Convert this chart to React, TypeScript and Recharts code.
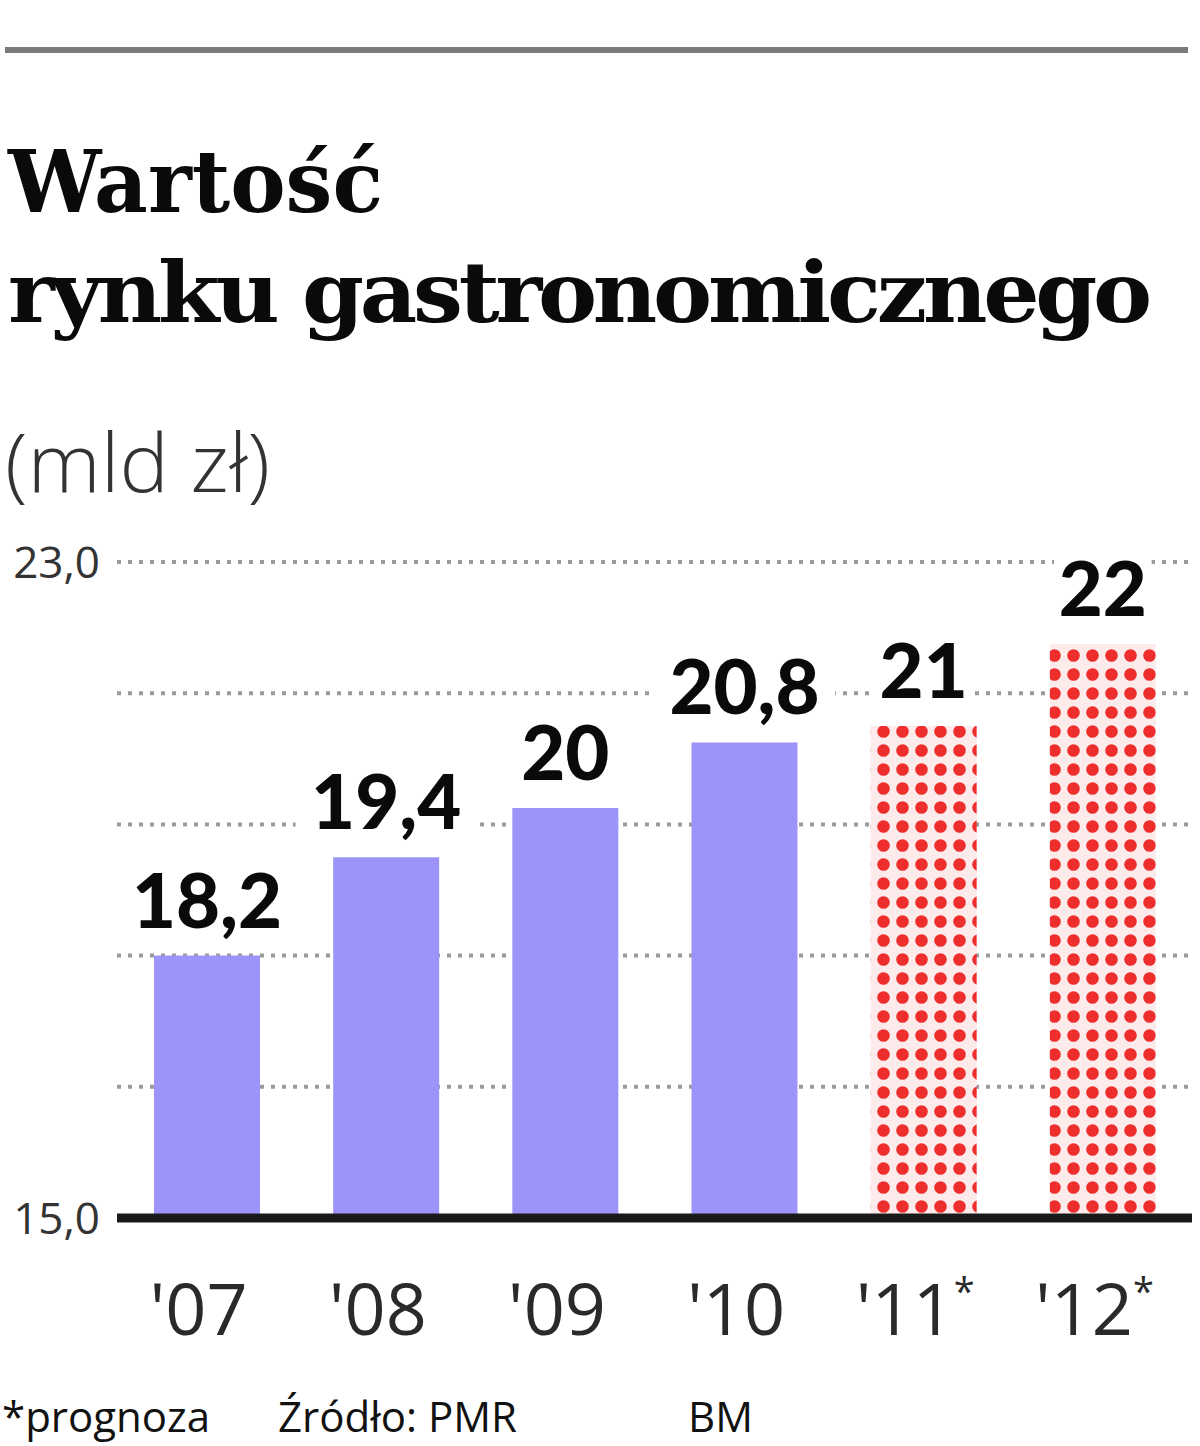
import React from "react";
import { BarChart, Bar, XAxis, YAxis, CartesianGrid, Cell, LabelList } from "recharts";

const categories = ["'07", "'08", "'09", "'10", "'11", "'12"];
const values = [18.2, 19.4, 20, 20.8, 21, 22];
const isForecast = [false, false, false, false, true, true];
const valueLabels = ["18,2", "19,4", "20", "20,8", "21", "22"];
const yTicks = [15, 16.6, 18.2, 19.8, 21.4, 23];
const yTickLabels: Record<string, string> = { "15": "15,0", "23": "23,0" };

const data = categories.map((c, i) => ({
  cat: c,
  value: values[i],
  forecast: isForecast[i],
  label: valueLabels[i],
}));

const W = 1200;
const H = 1446;
const BLUE = "#9c94f8";

const XTick = (props: any) => {
  const { x, y, payload } = props;
  const txt: string = payload.value;
  const star = txt.endsWith("*");
  const base = star ? txt.slice(0, -1) : txt;
  return (
    <text
      x={x - 8}
      y={y + 117}
      textAnchor="middle"
      fontFamily="'Open Sans', 'Noto Sans', sans-serif"
      fontWeight={400}
      fontSize={72}
      fill="#2a2a2a"
    >
      {base}
      {star ? (
        <tspan dy={-30} fontSize={38}>
          *
        </tspan>
      ) : null}
    </text>
  );
};

const ValueLabel = (props: any) => {
  const { x, y, width, index } = props;
  const txt = valueLabels[index];
  const cx = x + width / 2;
  const baseline = y - 28;
  const fs = 76;
  const w = txt.length * fs * 0.55 + 14;
  return (
    <g>
      <rect x={cx - w / 2} y={baseline - fs * 0.78} width={w} height={fs * 0.78 + 14} fill="#ffffff" />
      <text
        x={cx}
        y={baseline}
        textAnchor="middle"
        fontFamily="Lato, 'Noto Sans', sans-serif"
        fontWeight={900}
        fontSize={fs}
        fill="#0a0a0a"
      >
        {txt}
      </text>
    </g>
  );
};

export default function App() {
  const catLabels = categories.map((c, i) => (isForecast[i] ? c + "*" : c));
  const chartData = data.map((d, i) => ({ ...d, catLabel: catLabels[i] }));
  return (
    <div
      style={{
        position: "absolute",
        left: 0,
        top: 0,
        width: W,
        height: H,
        overflow: "hidden",
        background: "#ffffff",
      }}
    >
      <svg width={0} height={0} style={{ position: "absolute" }}>
        <defs>
          <pattern id="dots" patternUnits="userSpaceOnUse" width={19} height={19}>
            <rect x={0} y={0} width={19} height={19} fill="#fdeaea" />
            <circle cx={9.5} cy={9.5} r={6.3} fill="#ee2d2d" />
          </pattern>
        </defs>
      </svg>
      <div style={{ position: "absolute", left: 0, top: 0 }}>
        <BarChart
          width={W}
          height={H}
          data={chartData}
          margin={{ top: 562, right: 8, left: 0, bottom: 108 }}
        >
          <CartesianGrid
            horizontal={true}
            vertical={false}
            stroke="#9a9a9a"
            strokeWidth={4}
            strokeDasharray="4 7"
          />
          <XAxis
            dataKey="catLabel"
            height={120}
            axisLine={{ stroke: "#1a1a1a", strokeWidth: 9 }}
            tickLine={false}
            tickSize={0}
            tickMargin={0}
            interval={0}
            tick={<XTick />}
          />
          <YAxis
            width={117}
            domain={[15, 23]}
            ticks={yTicks}
            allowDataOverflow={true}
            axisLine={false}
            tickLine={false}
            tickSize={0}
            tickMargin={17}
            tickFormatter={(v: number) => yTickLabels[String(v)] ?? ""}
            tick={{
              fontFamily: "'Open Sans', 'Noto Sans', sans-serif",
              fontWeight: 400,
              fontSize: 44,
              fill: "#333333",
            }}
          />
          <Bar dataKey="value" barSize={106} isAnimationActive={false}>
            {chartData.map((d, i) => (
              <Cell key={i} fill={d.forecast ? "url(#dots)" : BLUE} />
            ))}
            <LabelList dataKey="value" content={<ValueLabel />} />
          </Bar>
        </BarChart>
      </div>
      <svg
        width={W}
        height={H}
        style={{ position: "absolute", left: 0, top: 0, pointerEvents: "none" }}
      >
        <rect x={5} y={47} width={1183} height={6} fill="#7a7a7a" />
        <text
          x={8}
          y={212}
          fontFamily="'DejaVu Serif', serif"
          fontWeight={700}
          fontSize={86}
          fill="#0a0a0a"
          textLength={375}
          lengthAdjust="spacingAndGlyphs"
        >
          Wartość
        </text>
        <text
          x={8}
          y={322}
          fontFamily="'DejaVu Serif', serif"
          fontWeight={700}
          fontSize={84}
          letterSpacing={-4}
          fill="#0a0a0a"
          textLength={1140}
          lengthAdjust="spacingAndGlyphs"
        >
          rynku gastronomicznego
        </text>
        <text
          x={5}
          y={492}
          fontFamily="'Open Sans', 'Noto Sans', sans-serif"
          fontWeight={300}
          fontSize={82}
          fill="#333333"
          textLength={265}
          lengthAdjust="spacingAndGlyphs"
        >
          (mld zł)
        </text>
        <text
          x={2}
          y={1432}
          fontFamily="'Open Sans', 'Noto Sans', sans-serif"
          fontWeight={500}
          fontSize={42}
          fill="#111111"
        >
          *prognoza
        </text>
        <text
          x={278}
          y={1432}
          fontFamily="'Open Sans', 'Noto Sans', sans-serif"
          fontWeight={500}
          fontSize={42}
          fill="#111111"
        >
          Źródło: PMR
        </text>
        <text
          x={688}
          y={1432}
          fontFamily="'Open Sans', 'Noto Sans', sans-serif"
          fontWeight={500}
          fontSize={42}
          fill="#111111"
        >
          BM
        </text>
      </svg>
    </div>
  );
}
